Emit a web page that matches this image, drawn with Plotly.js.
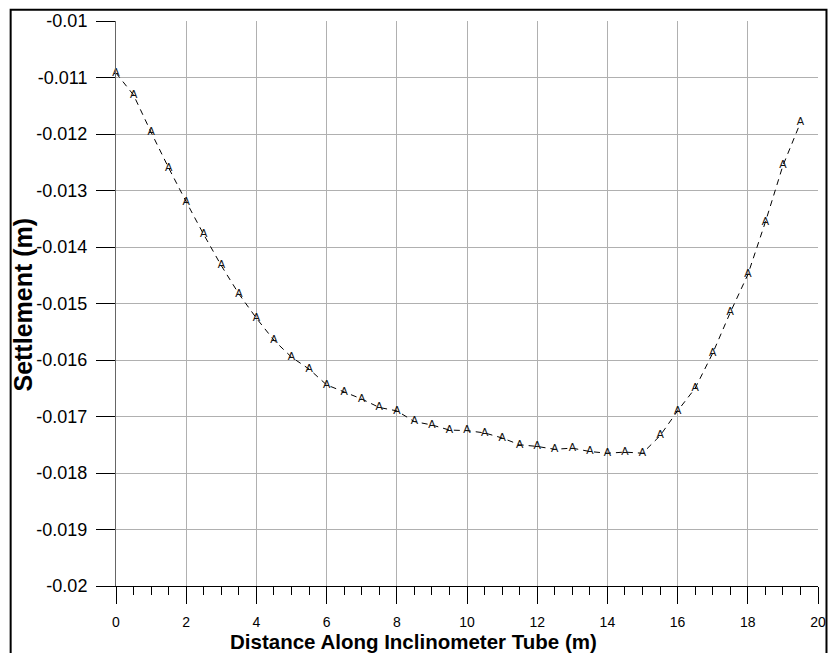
<!DOCTYPE html>
<html>
<head>
<meta charset="utf-8">
<script src="https://cdn.plot.ly/plotly-3.0.1.min.js"></script>
<style>html,body{margin:0;padding:0;background:#fff;}#chart{width:831px;height:653px;}</style>
</head>
<body>
<div id="chart"></div>
<script>
const distance = [0,0.5,1,1.5,2,2.5,3,3.5,4,4.5,5,5.5,6,6.5,7,7.5,8,8.5,9,9.5,10,10.5,11,11.5,12,12.5,13,13.5,14,14.5,15,15.5,16,16.5,17,17.5,18,18.5,19,19.5];
const settlement = [-0.01092,-0.01131,-0.01197,-0.01260,-0.01320,-0.01378,-0.01433,-0.01483,-0.01526,-0.01565,-0.01595,-0.01616,-0.01644,-0.01657,-0.01669,-0.01684,-0.01690,-0.01709,-0.01715,-0.01724,-0.01725,-0.01729,-0.01738,-0.01750,-0.01753,-0.01758,-0.01756,-0.01762,-0.01765,-0.01763,-0.01765,-0.01734,-0.01690,-0.01650,-0.01588,-0.01516,-0.01449,-0.01356,-0.01256,-0.01180];
const markerLabel = distance.map(() => 'A');
const xTickVals = [0,2,4,6,8,10,12,14,16,18,20];
const yTickVals = [-0.01,-0.011,-0.012,-0.013,-0.014,-0.015,-0.016,-0.017,-0.018,-0.019,-0.02];
const yTickText = ['-0.01','-0.011','-0.012','-0.013','-0.014','-0.015','-0.016','-0.017','-0.018','-0.019','-0.02'];
const xTitle = 'Distance Along Inclinometer Tube (m)';
const yTitle = 'Settlement (m)';

const W = 831, H = 653;
const m = {l: 115.5, r: 12.5, t: 21.2, b: 67};
const pw = W - m.l - m.r, ph = H - m.t - m.b;
const px = v => (v - m.l) / pw;
const py = v => (H - m.b - v) / ph;

const font = 'Liberation Sans, Arial, sans-serif';

Plotly.newPlot('chart', [{
  x: distance,
  y: settlement,
  mode: 'lines+text',
  text: markerLabel,
  textposition: 'middle center',
  textfont: {family: font, size: 11, color: '#111'},
  line: {color: '#000', width: 1, dash: '6px,5px'},
  hoverinfo: 'x+y',
  showlegend: false,
  cliponaxis: false
}], {
  width: W, height: H,
  margin: m,
  paper_bgcolor: '#fff',
  plot_bgcolor: '#fff',
  font: {family: font, color: '#000'},
  xaxis: {
    range: [0, 20],
    tickvals: xTickVals,
    ticktext: xTickVals.map(String),
    ticks: 'outside', ticklen: 17, tickwidth: 1, tickcolor: '#000',
    minor: {dtick: 0.5, ticks: 'outside', ticklen: 8, tickwidth: 1, tickcolor: '#000', showgrid: false},
    showgrid: true, gridcolor: '#b0b0b0', gridwidth: 1,
    showline: true, linecolor: '#000', linewidth: 1,
    zeroline: false,
    tickfont: {family: font, size: 14, color: '#000'},
    ticklabelstandoff: 6,
    title: {text: ''}
  },
  yaxis: {
    range: [-0.02, -0.01],
    tickvals: yTickVals,
    ticktext: yTickText,
    ticks: 'outside', ticklen: 19, tickwidth: 1, tickcolor: '#000',
    showgrid: true, gridcolor: '#b0b0b0', gridwidth: 1,
    showline: true, linecolor: '#666', linewidth: 1,
    zeroline: false,
    tickfont: {family: font, size: 18, color: '#000'},
    ticklabelstandoff: 5,
    title: {text: ''}
  },
  annotations: [
    {text: '<b>' + xTitle + '</b>', xref: 'paper', yref: 'paper', x: px(413), y: py(641),
     xanchor: 'center', yanchor: 'middle', showarrow: false,
     font: {family: font, size: 20.5, color: '#000'}},
    {text: '<b>' + yTitle + '</b>', xref: 'paper', yref: 'paper', x: px(22), y: py(305),
     xanchor: 'center', yanchor: 'middle', showarrow: false, textangle: -90,
     font: {family: font, size: 25, color: '#000'}}
  ],
  shapes: [{
    type: 'rect', xref: 'paper', yref: 'paper',
    x0: px(10), x1: px(827), y0: py(10), y1: py(660),
    line: {color: '#000', width: 2}, fillcolor: 'rgba(0,0,0,0)', layer: 'above'
  }]
}, {displayModeBar: false, staticPlot: true});
</script>
</body>
</html>
